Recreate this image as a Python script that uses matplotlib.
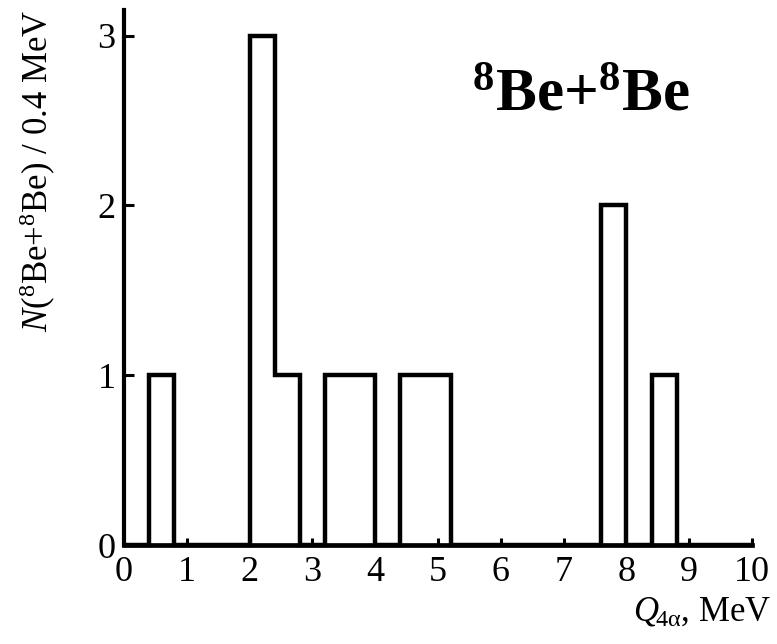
import numpy as np
import matplotlib
matplotlib.use("Agg")
from matplotlib import pyplot as plt

# Dados do histograma (bins de 0.4 MeV)
bordas = np.linspace(0, 10, 26)
contagens = [0, 1, 0, 0, 0, 3, 1, 0, 1, 1, 0, 1, 1,
             0, 0, 0, 0, 0, 0, 2, 0, 1, 0, 0, 0]
xticks = [0, 1, 2, 3, 4, 5, 6, 7, 8, 9, 10]
yticks = [0, 1, 2, 3]

plt.rcParams['font.family'] = ['Liberation Serif', 'DejaVu Serif']
plt.rcParams['mathtext.fontset'] = 'custom'
plt.rcParams['mathtext.rm'] = 'Liberation Serif'
plt.rcParams['mathtext.it'] = 'Liberation Serif:italic'
plt.rcParams['mathtext.bf'] = 'Liberation Serif:bold'

fig = plt.figure(figsize=(7.77, 6.44), dpi=100)
ax = fig.add_axes([0.1596, 0.1537, 0.8082, 0.8307])

# Histograma em degraus
ax.stairs(contagens, bordas, color='black', linewidth=3.2, clip_on=False)

ax.set_xlim(0, 10)
ax.set_ylim(0, 3.15)
ax.set_xticks(xticks)
ax.set_yticks(yticks)

ax.spines['top'].set_visible(False)
ax.spines['right'].set_visible(False)
ax.spines['left'].set_linewidth(3.0)
ax.spines['bottom'].set_linewidth(3.4)

ax.tick_params(axis='y', direction='in', length=7, width=2.2, labelsize=26, pad=6)
ax.tick_params(axis='x', direction='in', length=5, width=2.2, labelsize=26, pad=8)

ax.set_ylabel(r'$\mathit{N}(^{8}\mathrm{Be}$+$^{8}\mathrm{Be}$) / 0.4 MeV', fontsize=25)
ax.yaxis.set_label_coords(-0.105, 0.70)
ax.set_xlabel(r'$\mathit{Q}_{\!\mathrm{4α}}$, MeV', fontsize=25, loc='right')
ax.xaxis.set_label_coords(1.03, -0.095)

# Rotulo do sistema
ax.text(0.554, 0.813, r'$^{\mathbf{8}}\mathbf{Be}$+$^{\mathbf{8}}\mathbf{Be}$',
        transform=ax.transAxes, fontsize=44, fontweight='bold',
        ha='left', va='baseline')

fig.savefig('out.png', dpi=100)
